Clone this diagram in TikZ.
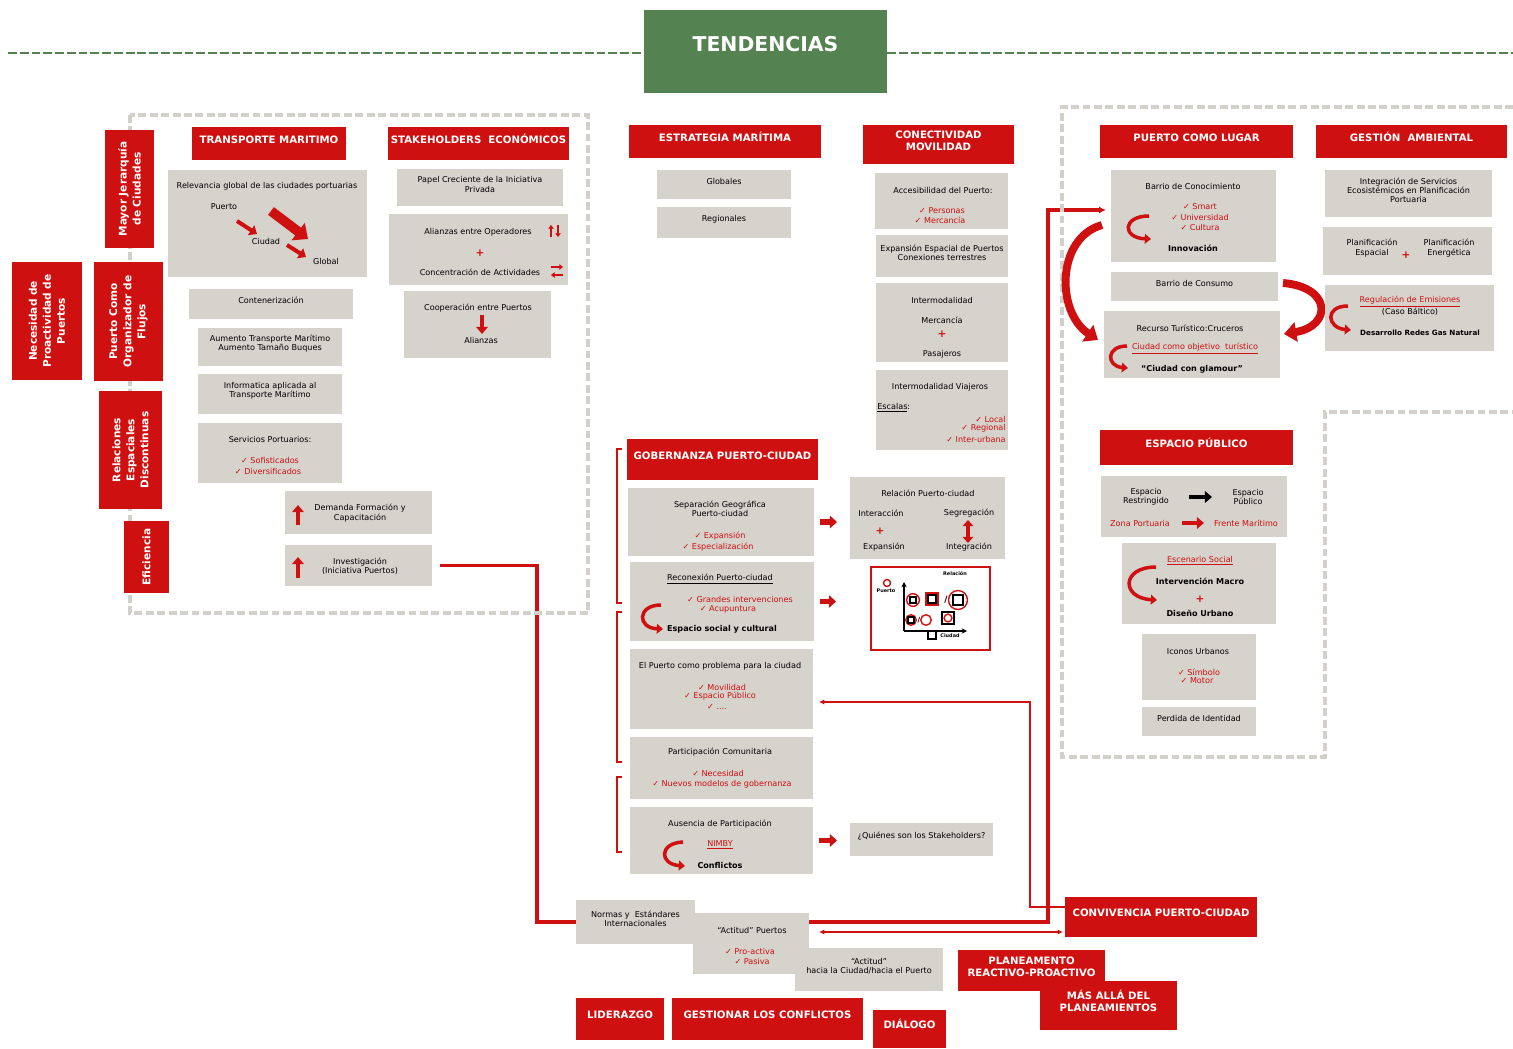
\documentclass[tikz,border=0pt]{standalone}
\usepackage{fontspec}
\setmainfont{DejaVu Sans}
\usetikzlibrary{arrows.meta,fit,calc}
\pgfdeclarelayer{background}
\pgfsetlayers{background,main}
\definecolor{rojo}{HTML}{CF1010}
\definecolor{gris}{HTML}{D6D2CC}
\definecolor{verde}{HTML}{548250}
\definecolor{marco}{HTML}{D3CFCA}
\newcommand\tx{\fontsize{4.6}{5.3}\selectfont}
\newcommand\hx{\fontsize{5.8}{7}\selectfont\bfseries}
\newcommand\vx{\fontsize{6}{8}\selectfont\bfseries}
\newcommand\chk{✓\ }
\tikzset{
  gbox/.style={fill=gris, inner sep=0pt, outer sep=0pt, align=center, font=\tx},
  rbox/.style={fill=rojo, text=white, inner sep=0pt, outer sep=0pt, align=center, font=\hx},
  txt/.style={inner sep=0pt, align=center, font=\tx},
  rtxt/.style={txt, text=rojo},
  btxt/.style={txt, font=\tx\bfseries},
  mas/.style={txt, text=rojo, font=\fontsize{6}{6}\selectfont\bfseries},
  vtxt/.style={inner sep=0pt, align=center, font=\vx, text=white, rotate=90},
  marcog/.style={draw=marco, line width=2.6pt, dash pattern=on 4.5pt off 2pt},
  conex/.style={draw=rojo, line width=2pt},
  fino/.style={draw=rojo, line width=0.9pt},
  media/.style={draw=rojo, line width=1.2pt},
  flecha/.style={draw=rojo, line width=3.2pt, -{Triangle[length=4pt,width=7pt]}},
  flechita/.style={draw=rojo, line width=2.4pt, -{Triangle[length=4pt,width=6.5pt]}},
  curva/.style={draw=rojo, line width=2pt, -{Triangle[length=3.5pt,width=5.5pt]}},
  creciente/.style={draw=rojo, line width=4.5pt, -{Triangle[length=7pt,width=11pt]}},
}
\begin{document}
\begin{tikzpicture}[x=0.02cm,y=-0.02cm]
  \useasboundingbox (0,0) rectangle (1513,1048);
  \draw[marcog] (130,115) rectangle (588,613);
  \draw[marcog] (1513,107) -- (1062,107) -- (1062,757) -- (1325,757) -- (1325,412) -- (1513,412);

  \node[rbox, fill=verde, font=\fontsize{11.6}{13}\selectfont\bfseries, fit={(644,10) (887,93)}] (tend) {TENDENCIAS};
  \coordinate (gi) at (8,53);
  \coordinate (gd) at (1513,53);
  \draw[verde, line width=0.9pt, dash pattern=on 5pt off 1.7pt] (gi) -- (gi -| tend.west);
  \draw[verde, line width=0.9pt, dash pattern=on 5pt off 1.7pt] (gd -| tend.east) -- (gd);

  \node[rbox, fit={(105,130) (154,248)}] (jerarq) {};
  \node[vtxt] (jerarqt) at (jerarq) {Mayor Jerarquía\\de Ciudades};
  \node[rbox, fit={(12,262) (82,380)}] (necesid) {};
  \node[vtxt] (necesidt) at (necesid) {Necesidad de\\Proactividad de\\Puertos};
  \node[rbox, fit={(94,262) (163,381)}] (organiz) {};
  \node[vtxt] (organizt) at (organiz) {Puerto Como\\Organizador de\\Flujos};
  \node[rbox, fit={(99,391) (162,509)}] (relesp) {};
  \node[vtxt] (relespt) at (relesp) {Relaciones\\Espaciales\\Discontinuas};
  \node[rbox, fit={(124,521) (169,593)}] (eficien) {};
  \node[vtxt] (eficient) at (eficien) {Eficiencia};

  \node[rbox, fit={(192,127) (346,160)}] (htrans) {TRANSPORTE MARITIMO};
  \node[gbox, fit={(168,170) (367,277)}] (relev) {};
  \node[txt] (relevt) at (267,186) {Relevancia global de las ciudades portuarias};
  \node[txt] (puertot) at (224,207) {Puerto};
  \node[txt] (ciudadt) at (266,241) {Ciudad};
  \node[txt] (globalt) at (326,261) {Global};
  \draw[rojo, line width=2.3pt, -{Triangle[length=4pt,width=6.5pt]}] (237,221) -- (257,234);
  \draw[rojo, line width=5.5pt, -{Triangle[length=7pt,width=12pt]}] (271,211) -- (308,239);
  \draw[rojo, line width=2.3pt, -{Triangle[length=4pt,width=6.5pt]}] (287,245) -- (306,257);
  \node[gbox, fit={(189,289) (353,319)}] (conten) {Contenerización};
  \node[gbox, fit={(198,328) (342,366)}] (aument) {Aumento Transporte Marítimo\\Aumento Tamaño Buques};
  \node[gbox, fit={(198,374) (342,414)}] (inform) {Informatica aplicada al\\Transporte Marítimo};
  \node[gbox, fit={(198,423) (342,483)}] (servic) {};
  \node[txt] (servict) at (270,439) {Servicios Portuarios:};
  \node[rtxt] (sofist) at (270,460) {\chk Sofisticados};
  \node[rtxt] (divers) at (268,471) {\chk Diversificados};
  \node[gbox, fit={(285,491) (432,534)}] (demand) {};
  \node[txt] (demandt) at (360,513) {Demanda Formación y\\Capacitación};
  \draw[flechita] (298,525) -- (298,505);
  \node[gbox, fit={(285,545) (432,586)}] (invest) {};
  \node[txt] (investt) at (360,566) {Investigación\\(Iniciativa Puertos)};
  \draw[flechita] (298,578) -- (298,557);

  \node[rbox, fit={(388,127) (569,160)}] (hstake) {STAKEHOLDERS\ \ ECONÓMICOS};
  \node[gbox, fit={(397,169) (563,206)}] (papel) {Papel Creciente de la Iniciativa\\Privada};
  \node[gbox, fit={(389,214) (568,285)}] (alianz) {};
  \node[txt] (alianzt) at (478,232) {Alianzas entre Operadores};
  \node[mas] (alianzm) at (480,253) {+};
  \node[txt] (concent) at (480,272) {Concentración de Actividades};
  \draw[rojo, line width=1.1pt, -{Triangle[length=2pt,width=3pt]}] (551,237) -- (551,225);
  \draw[rojo, line width=1.1pt, -{Triangle[length=2pt,width=3pt]}] (558,225) -- (558,237);
  \draw[rojo, line width=1.1pt, -{Triangle[length=2pt,width=3pt]}] (551,267) -- (563,267);
  \draw[rojo, line width=1.1pt, -{Triangle[length=2pt,width=3pt]}] (563,275) -- (551,275);
  \node[gbox, fit={(404,291) (551,358)}] (coop) {};
  \node[txt] (coopt) at (478,308) {Cooperación entre Puertos};
  \node[txt] (alianzas) at (481,340) {Alianzas};
  \draw[flechita] (482,315) -- (482,334);

  \node[rbox, fit={(629,125) (821,158)}] (hestr) {ESTRATEGIA MARÍTIMA};
  \node[gbox, fit={(657,170) (791,199)}] (glob) {Globales};
  \node[gbox, fit={(657,207) (791,238)}] (regio) {Regionales};

  \node[rbox, fit={(863,125) (1014,164)}] (hconec) {CONECTIVIDAD\\MOVILIDAD};
  \node[gbox, fit={(875,173) (1008,229)}] (acces) {};
  \node[txt] (accest) at (943,190) {Accesibilidad del Puerto:};
  \node[rtxt] (person) at (942,211) {\chk Personas};
  \node[rtxt] (mercan) at (940,220) {\chk Mercancía};
  \node[gbox, fit={(876,235) (1008,277)}] (expan) {Expansión Espacial de Puertos\\Conexiones terrestres};
  \node[gbox, fit={(876,283) (1008,362)}] (interm) {};
  \node[txt] (intermt) at (942,300) {Intermodalidad};
  \node[txt] (intermm) at (942,320) {Mercancía};
  \node[mas] (intermp) at (942,334) {+};
  \node[txt] (intermj) at (942,354) {Pasajeros};
  \node[gbox, fit={(876,370) (1008,450)}] (viaj) {};
  \node[txt] (viajt) at (940,387) {Intermodalidad Viajeros};
  \node[txt, anchor=west] (escal) at (877,408) {\underline{Escalas}:};
  \node[rtxt, anchor=east] (local) at (1006,419) {\chk Local};
  \node[rtxt, anchor=east] (region) at (1006,428) {\chk Regional};
  \node[rtxt, anchor=east] (interu) at (1006,439) {\chk Inter-urbana};

  \node[rbox, fit={(627,439) (818,480)}] (hgober) {GOBERNANZA PUERTO-CIUDAD};
  \node[gbox, fit={(628,488) (814,556)}] (separ) {};
  \node[txt] (separt) at (720,509) {Separación Geográfica\\Puerto-ciudad};
  \node[rtxt] (sepexp) at (720,536) {\chk Expansión};
  \node[rtxt] (sepesp) at (718,547) {\chk Especialización};
  \node[gbox, fit={(630,562) (814,641)}] (recon) {};
  \node[txt] (recont) at (720,579) {\underline{Reconexión Puerto-ciudad}};
  \node[rtxt] (granint) at (740,599) {\chk Grandes intervenciones};
  \node[rtxt] (acupun) at (728,609) {\chk Acupuntura};
  \node[btxt] (espsoc) at (722,629) {Espacio social y cultural};
  \draw[curva] (661,605) .. controls (637,605) and (637,628) .. (663,629);
  \node[gbox, fit={(630,649) (813,729)}] (probl) {};
  \node[txt] (problt) at (720,666) {El Puerto como problema para la ciudad};
  \node[rtxt] (movil) at (722,687) {\chk Movilidad};
  \node[rtxt] (esppub) at (720,696) {\chk Espacio Público};
  \node[rtxt] (puntos) at (717,707) {\chk ....};
  \node[gbox, fit={(630,737) (813,799)}] (partic) {};
  \node[txt] (partict) at (720,752) {Participación Comunitaria};
  \node[rtxt] (neces) at (718,773) {\chk Necesidad};
  \node[rtxt] (nuevos) at (722,784) {\chk Nuevos modelos de gobernanza};
  \node[gbox, fit={(630,807) (813,874)}] (ausenc) {};
  \node[txt] (ausenct) at (720,824) {Ausencia de Participación};
  \node[rtxt] (nimby) at (720,845) {\underline{NIMBY}};
  \node[btxt] (conflic) at (720,865) {Conflictos};
  \draw[curva] (683,842) .. controls (659,843) and (659,864) .. (685,866);
  \draw[media] (622,449) -- (617,449) -- (617,603) -- (622,603);
  \draw[media] (622,612) -- (617,612) -- (617,762) -- (622,762);
  \draw[media] (622,777) -- (617,777) -- (617,852) -- (622,852);

  \node[gbox, fit={(850,477) (1005,559)}] (relac) {};
  \node[txt] (relact) at (928,493) {Relación Puerto-ciudad};
  \node[txt] (interac) at (881,513) {Interacción};
  \node[txt] (segreg) at (969,513) {Segregación};
  \node[mas] (relacm) at (880,531) {+};
  \node[txt] (expans) at (884,547) {Expansión};
  \node[txt] (integr) at (969,547) {Integración};
  \draw[rojo, line width=2.4pt, {Triangle[length=3.5pt,width=6pt]}-{Triangle[length=3.5pt,width=6pt]}] (968,520) -- (968,543);

  \node[draw=rojo, line width=1.1pt, fill=white, inner sep=0pt, fit={(871,567) (990,650)}] (figura) {};
  \node[txt, font=\fontsize{2.8}{3}\selectfont\bfseries] (figrel) at (955,574) {Relación};
  \node[txt, font=\fontsize{2.8}{3}\selectfont\bfseries] (figpto) at (886,591) {Puerto};
  \node[txt, font=\fontsize{2.8}{3}\selectfont\bfseries] (figciu) at (950,636) {Ciudad};
  \draw[line width=0.7pt, -{Stealth[length=3pt,width=3pt]}] (904,631) -- (904,582);
  \draw[line width=0.7pt, -{Stealth[length=3pt,width=3pt]}] (904,631) -- (967,631);
  \draw[rojo, line width=0.8pt] (887,583) circle[radius=2pt];
  \draw[rojo, line width=0.8pt] (913,600) circle[radius=3.6pt];
  \draw[line width=0.6pt] (910,597) rectangle (916,603);
  \draw[rojo, line width=0.8pt] (926,593) rectangle (938,605);
  \draw[line width=0.6pt] (928,595) rectangle (936,603);
  \node[txt, font=\fontsize{5}{5}\selectfont\bfseries] (figbar) at (946,600) {/};
  \draw[rojo, line width=0.8pt] (958,600) circle[radius=5.4pt];
  \draw[line width=0.6pt] (953,595) rectangle (963,605);
  \draw[rojo, line width=0.8pt] (911,620) circle[radius=3pt];
  \draw[line width=0.6pt] (908,617) rectangle (914,623);
  \node[txt, font=\fontsize{4}{4}\selectfont\bfseries] (figbar2) at (919,620) {/};
  \draw[rojo, line width=0.8pt] (926,620) circle[radius=3pt];
  \draw[line width=0.6pt] (942,612) rectangle (954,624);
  \draw[rojo, line width=0.8pt] (948,618) circle[radius=2.2pt];
  \draw[line width=0.6pt] (928,631) rectangle (936,639);

  \node[gbox, fit={(850,823) (993,856)}] (quien) {¿Quiénes son los Stakeholders?};

  \node[rbox, fit={(1100,125) (1293,158)}] (hpuerto) {PUERTO COMO LUGAR};
  \node[gbox, fit={(1111,170) (1276,262)}] (conoc) {};
  \node[txt] (conoct) at (1193,186) {Barrio de Conocimiento};
  \node[rtxt] (smart) at (1200,207) {\chk Smart};
  \node[rtxt] (univ) at (1200,217) {\chk Universidad};
  \node[rtxt] (cultura) at (1200,227) {\chk Cultura};
  \node[btxt] (innov) at (1193,248) {Innovación};
  \draw[curva] (1149,216) .. controls (1122,216) and (1122,238) .. (1151,239);
  \node[gbox, fit={(1111,272) (1278,301)}] (consumo) {Barrio de Consumo};
  \node[gbox, fit={(1104,311) (1280,378)}] (recurso) {};
  \node[txt] (recursot) at (1190,328) {Recurso Turístico:Cruceros};
  \node[rtxt] (objetivo) at (1195,349) {\underline{Ciudad como objetivo\ \ turístico}};
  \node[btxt] (glamour) at (1192,369) {“Ciudad con glamour”};
  \draw[curva] (1127,346) .. controls (1106,346) and (1106,366) .. (1128,368);
  \draw[creciente] (1102,225) .. controls (1056,238) and (1056,312) .. (1098,340);
  \draw[creciente] (1283,283) .. controls (1332,287) and (1332,326) .. (1284,334);

  \node[rbox, fit={(1316,125) (1507,158)}] (hgestion) {GESTIÓN\ \ AMBIENTAL};
  \node[gbox, fit={(1325,170) (1492,217)}] (integ) {Integración de Servicios\\Ecosistémicos en Planificación\\Portuaria};
  \node[gbox, fit={(1323,227) (1492,275)}] (planif) {};
  \node[txt] (planesp) at (1372,248) {Planificación\\Espacial};
  \node[mas] (planm) at (1406,255) {+};
  \node[txt] (planene) at (1449,248) {Planificación\\Energética};
  \node[gbox, fit={(1325,285) (1494,351)}] (regul) {};
  \node[rtxt] (regult) at (1410,302) {\underline{Regulación de Emisiones}};
  \node[txt] (baltico) at (1410,312) {(Caso Báltico)};
  \node[btxt, font=\fontsize{4.1}{5}\selectfont\bfseries] (gasnat) at (1420,333) {Desarrollo Redes Gas Natural};
  \draw[curva] (1348,306) .. controls (1324,306) and (1327,328) .. (1351,330);

  \node[rbox, fit={(1100,430) (1293,465)}] (hespacio) {ESPACIO PÚBLICO};
  \node[gbox, fit={(1101,476) (1287,537)}] (restr) {};
  \node[txt] (restrt) at (1146,497) {Espacio\\Restringido};
  \node[txt] (publt) at (1248,497) {Espacio\\Público};
  \node[rtxt] (zonap) at (1140,523) {Zona Portuaria};
  \node[rtxt] (frente) at (1246,523) {Frente Marítimo};
  \draw[black, line width=2.6pt, -{Triangle[length=4pt,width=6.5pt]}] (1189,497) -- (1212,497);
  \draw[flechita] (1182,523) -- (1204,523);
  \node[gbox, fit={(1122,543) (1276,624)}] (escen) {};
  \node[rtxt] (escent) at (1200,561) {\underline{Escenario Social}};
  \node[btxt] (macro) at (1200,581) {Intervención Macro};
  \node[mas] (escenm) at (1200,599) {+};
  \node[btxt] (disen) at (1200,613) {Diseño Urbano};
  \draw[curva] (1156,567) .. controls (1121,567) and (1121,598) .. (1157,600);
  \node[gbox, fit={(1142,634) (1256,700)}] (iconos) {};
  \node[txt] (iconost) at (1198,651) {Iconos Urbanos};
  \node[rtxt] (simbolo) at (1199,672) {\chk Símbolo};
  \node[rtxt] (motor) at (1197,681) {\chk Motor};
  \node[gbox, fit={(1142,707) (1256,736)}] (perdida) {Perdida de Identidad};

  \node[gbox, fit={(576,900) (695,944)}] (normas) {Normas y\ \ Estándares\\Internacionales};
  \node[gbox, fit={(693,913) (809,974)}] (actit) {};
  \node[txt] (actitt) at (752,930) {“Actitud” Puertos};
  \node[rtxt] (proact) at (750,951) {\chk Pro-activa};
  \node[rtxt] (pasiva) at (752,961) {\chk Pasiva};
  \node[gbox, fit={(795,948) (943,991)}] (hacia) {“Actitud”\\hacia la Ciudad/hacia el Puerto};

  \node[rbox, fit={(1065,897) (1257,937)}] (hconv) {CONVIVENCIA PUERTO-CIUDAD};
  \node[rbox, fit={(958,950) (1105,991)}] (hplan) {PLANEAMENTO\\REACTIVO-PROACTIVO};
  \node[rbox, fit={(1040,981) (1177,1030)}] (hmas) {MÁS ALLÁ DEL\\PLANEAMIENTOS};
  \node[rbox, fit={(576,998) (664,1040)}] (hlider) {LIDERAZGO};
  \node[rbox, fit={(672,998) (863,1040)}] (hgest) {GESTIONAR LOS CONFLICTOS};
  \node[rbox, fit={(873,1010) (946,1048)}] (hdial) {DIÁLOGO};

  \draw[flecha, shorten <=0.12cm, shorten >=0.26cm] (separ.east) -- (separ.east -| relac.west);
  \draw[flecha, shorten <=0.12cm, shorten >=0.68cm] (recon.east) -- (recon.east -| figura.west);
  \draw[flecha, shorten <=0.12cm, shorten >=0.26cm] (ausenc.east) -- (ausenc.east -| quien.west);

  \begin{pgfonlayer}{background}
    \coordinate (esq) at (1048,922);
    \draw[conex, shorten <=0.16cm] (invest.east) -- ++(105,0) |- (normas.west);
    \draw[conex, -{Latex[length=4pt,width=4pt]}, shorten >=0.1cm] (normas.east) -- (esq) |- ([yshift=0.12cm]conoc.west);
    \draw[fino, -{Latex[length=3pt,width=3pt]}] ([yshift=0.2cm]hconv.west) -| ($(probl.east)+(217,13)$) -- ($(probl.east)+(6,13)$);
    \draw[fino, {Latex[length=3pt,width=3pt]}-{Latex[length=3pt,width=3pt]}, shorten <=0.2cm, shorten >=0.04cm] ([yshift=-0.3cm]hconv.west -| actit.east) -- ([yshift=-0.3cm]hconv.west);
  \end{pgfonlayer}
\end{tikzpicture}
\end{document}
